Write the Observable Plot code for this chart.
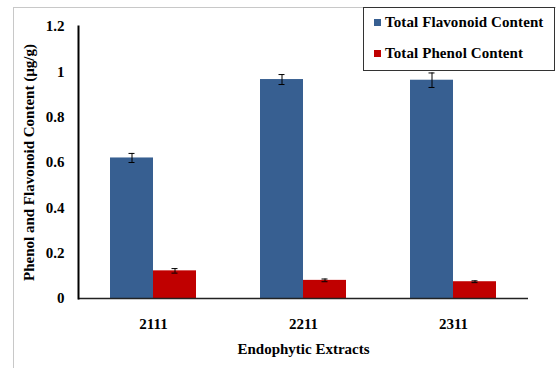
<!DOCTYPE html>
<html>
<head>
<meta charset="utf-8">
<script src="https://cdn.jsdelivr.net/npm/d3@7"></script>
<script src="https://cdn.jsdelivr.net/npm/@observablehq/plot@0.6"></script>
<style>
  html, body { margin: 0; padding: 0; background: #fff; }
  #wrap { position: relative; width: 556px; height: 368px; overflow: hidden; font-family: "Liberation Serif", "DejaVu Serif", serif; }
  #sheet { position: absolute; left: 13px; top: 7px; right: -2px; bottom: -2px; border-left: 1px solid #c8c8c8; border-top: 1px solid #c8c8c8; }
  #legend { position: absolute; left: 363px; top: 7px; width: 190px; height: 62px; border: 1.5px solid #333; background: #fff; font-weight: bold; font-size: 15px; letter-spacing: 0.1px; color: #000; }
  .item { position: absolute; left: 10px; display: flex; align-items: center; white-space: nowrap; }
  .sw { width: 7px; height: 7px; margin-right: 4px; }
</style>
</head>
<body>
<div id="wrap">
  <div id="sheet"></div>
  <div id="chart"></div>
  <div id="legend"></div>
</div>
<script>
const categories = ["2111", "2211", "2311"];
const series = ["Total Flavonoid Content", "Total Phenol Content"];
const flavonoid = [0.62, 0.966, 0.963];
const flavonoidErr = [0.02, 0.022, 0.032];
const phenol = [0.122, 0.08, 0.074];
const phenolErr = [0.01, 0.006, 0.004];
const yTicks = [0, 0.2, 0.4, 0.6, 0.8, 1, 1.2];
const colors = ["#375f91", "#c00000"];

const flavRows = categories.map((c, i) => ({cat: c, series: series[0], value: flavonoid[i], err: flavonoidErr[i]}));
const phenRows = categories.map((c, i) => ({cat: c, series: series[1], value: phenol[i], err: phenolErr[i]}));

const chart = Plot.plot({
  width: 556,
  height: 368,
  marginLeft: 78,
  marginRight: 28,
  marginTop: 26,
  marginBottom: 70,
  style: {fontFamily: "'Liberation Serif', 'DejaVu Serif', serif", fontSize: "15px", fontWeight: "bold", background: "transparent", color: "#000"},
  x: {type: "band", domain: categories, padding: 0},
  y: {domain: [0, 1.2]},
  color: {domain: series, range: colors},
  marks: [
    Plot.barY(flavRows, {x: "cat", y: "value", fill: "series", insetLeft: 32, insetRight: 75}),
    Plot.barY(phenRows, {x: "cat", y: "value", fill: "series", insetLeft: 75, insetRight: 32}),
    Plot.ruleX(flavRows, {x: "cat", y1: d => d.value - d.err, y2: d => d.value + d.err, dx: -21.5, stroke: "#000", strokeWidth: 1}),
    Plot.ruleX(phenRows, {x: "cat", y1: d => d.value - d.err, y2: d => d.value + d.err, dx: 21.5, stroke: "#000", strokeWidth: 1}),
    Plot.tickY(flavRows, {x: "cat", y: d => d.value + d.err, insetLeft: 50.5, insetRight: 93.5, stroke: "#000"}),
    Plot.tickY(flavRows, {x: "cat", y: d => d.value - d.err, insetLeft: 50.5, insetRight: 93.5, stroke: "#000"}),
    Plot.tickY(phenRows, {x: "cat", y: d => d.value + d.err, insetLeft: 93.5, insetRight: 50.5, stroke: "#000"}),
    Plot.tickY(phenRows, {x: "cat", y: d => d.value - d.err, insetLeft: 93.5, insetRight: 50.5, stroke: "#000"}),
    Plot.ruleY([0], {stroke: "#222", strokeWidth: 1.5}),
    Plot.frame({anchor: "left", stroke: "#000", strokeWidth: 2}),
    Plot.axisY({ticks: yTicks, tickFormat: d => String(d), tickSize: 0, tickPadding: 14,
      label: "Phenol and Flavonoid Content (µg/g)", labelAnchor: "center", labelArrow: "none", labelOffset: 55}),
    Plot.axisX({tickSize: 0, tickPadding: 20, label: "Endophytic Extracts", labelAnchor: "center", labelArrow: "none", labelOffset: 55})
  ]
});
document.getElementById("chart").appendChild(chart);

const legend = document.getElementById("legend");
series.forEach((s, i) => {
  const item = document.createElement("div");
  item.className = "item";
  item.style.top = (i === 0 ? 6 : 37) + "px";
  const sw = document.createElement("div");
  sw.className = "sw";
  sw.style.background = colors[i];
  const t = document.createElement("span");
  t.textContent = s;
  item.appendChild(sw);
  item.appendChild(t);
  legend.appendChild(item);
});
</script>
</body>
</html>
